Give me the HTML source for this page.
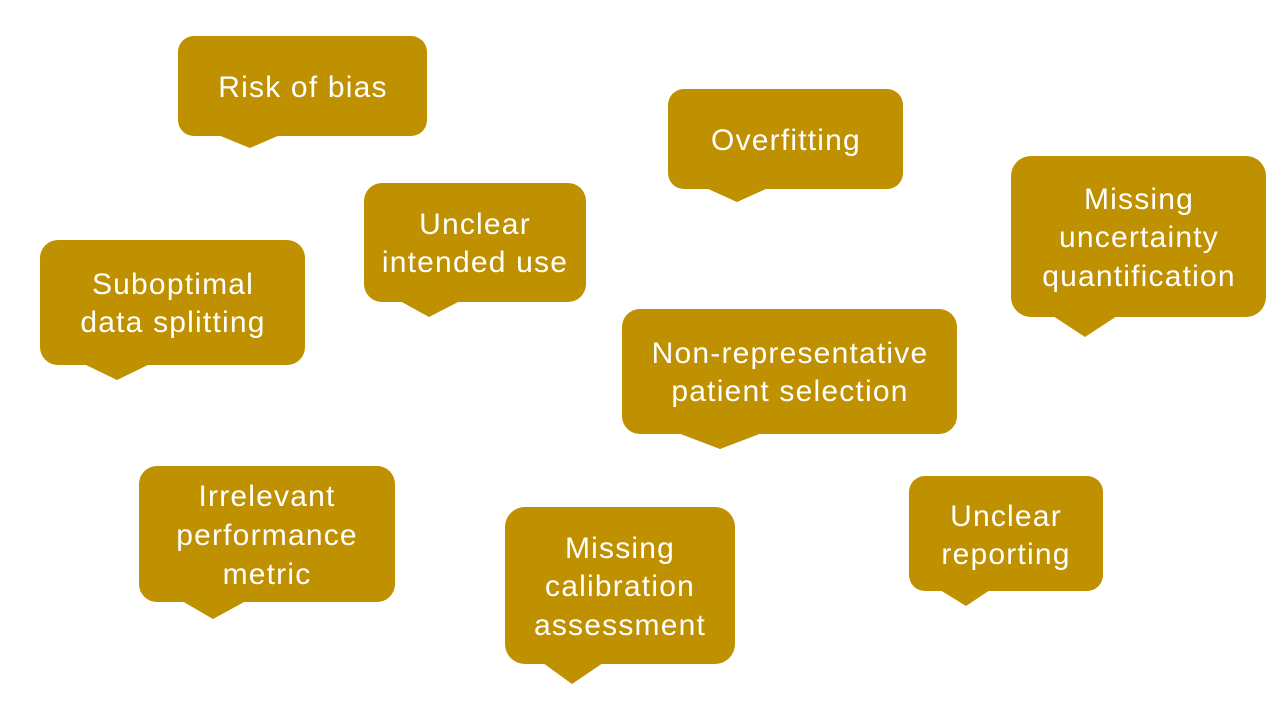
<!DOCTYPE html>
<html><head><meta charset="utf-8"><style>
html,body{margin:0;padding:0;background:#fff;}
svg{display:block}
text{font-family:"Liberation Sans",sans-serif;font-size:30px;letter-spacing:1.2px;fill:#fff;text-anchor:middle}
</style></head><body>
<svg width="1280" height="720" viewBox="0 0 1280 720">
<g fill="#BF9000">
<rect x="178" y="36" width="249" height="100" rx="16"/><polygon points="218,135 280,135 250,148"/>
<rect x="668" y="89" width="235" height="100" rx="16"/><polygon points="706,188 768,188 737,202"/>
<rect x="1011" y="156" width="255" height="161" rx="20"/><polygon points="1053,316 1117,316 1085,337"/>
<rect x="364" y="183" width="222" height="119" rx="18"/><polygon points="400,301 460,301 429,317"/>
<rect x="40" y="240" width="265" height="125" rx="18"/><polygon points="84,364 150,364 117,380"/>
<rect x="622" y="309" width="335" height="125" rx="18"/><polygon points="678,433 762,433 720,449"/>
<rect x="139" y="466" width="256" height="136" rx="18"/><polygon points="182,601 246,601 213,619"/>
<rect x="505" y="507" width="230" height="157" rx="20"/><polygon points="543,663 603,663 572,684"/>
<rect x="909" y="476" width="194" height="115" rx="16"/><polygon points="940,590 990,590 966,606"/>
</g>
<text x="303" y="97">Risk of bias</text>
<text x="786" y="150">Overfitting</text>
<text x="1139" y="209">Missing</text>
<text x="1139" y="247">uncertainty</text>
<text x="1139" y="286">quantification</text>
<text x="475" y="234">Unclear</text>
<text x="475" y="272">intended use</text>
<text x="173" y="294">Suboptimal</text>
<text x="173" y="332">data splitting</text>
<text x="790" y="363">Non-representative</text>
<text x="790" y="401">patient selection</text>
<text x="267" y="506">Irrelevant</text>
<text x="267" y="545">performance</text>
<text x="267" y="584">metric</text>
<text x="620" y="558">Missing</text>
<text x="620" y="596">calibration</text>
<text x="620" y="635">assessment</text>
<text x="1006" y="526">Unclear</text>
<text x="1006" y="564">reporting</text>
</svg>
</body></html>
